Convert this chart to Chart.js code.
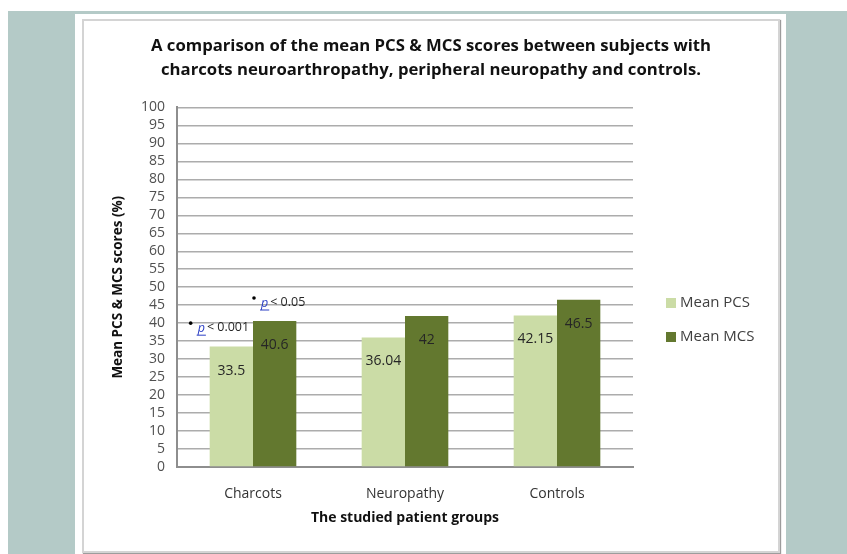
<!DOCTYPE html>
<html>
<head>
<meta charset="utf-8">
<script src="https://cdn.jsdelivr.net/npm/chart.js@4.4.1/dist/chart.umd.min.js"></script>
<style>
  html, body { margin: 0; padding: 0; background: #fff; }
  body { width: 847px; height: 554px; position: relative; overflow: hidden; }
  #bg { position: absolute; left: 8px; top: 11px; right: 0; bottom: 0; background: #b4cac7; }
  #panel { position: absolute; left: 75px; top: 14px; width: 711px; height: 540px; background: #fff; }
  #box {
    position: absolute; left: 82px; top: 19px; width: 694px; height: 530px;
    border: 2px solid #d4d4d4; box-shadow: 1px 1px 1px #9c9c9c; background: #fff;
  }
  #chart { display: block; }
</style>
</head>
<body>
<div id="bg"></div>
<div id="panel"></div>
<div id="box"><canvas id="chart" width="694" height="530"></canvas></div>
<script>
// mean quality-of-life component scores per patient group
const groups = ["Charcots", "Neuropathy", "Controls"];
const seriesNames = ["Mean PCS", "Mean MCS"];
const meanPCS = [33.5, 36.04, 42.15];
const meanMCS = [40.6, 42, 46.5];
const yMin = 0;
const yMax = 100;
const yStep = 5;

// significance markers: which bar they belong to, the level they sit at, and the text
const noteSeries = [0, 1];
const noteGroup = [0, 0];
const noteLevel = [40, 47];
const noteText = ["< 0.001", "< 0.05"];

const FONT = "'Open Sans', sans-serif";
const pcsColor = "#cbdca6";
const mcsColor = "#63782f";
const textDark = "#262626";
const tickGray = "#505050";

const valueLabels = {
  id: "valueLabels",
  afterDatasetsDraw(chart) {
    const { ctx } = chart;
    ctx.save();
    ctx.font = "14px " + FONT;
    ctx.fillStyle = textDark;
    ctx.textAlign = "center";
    ctx.textBaseline = "middle";
    chart.data.datasets.forEach((ds, d) => {
      chart.getDatasetMeta(d).data.forEach((bar, i) => {
        ctx.fillText(String(ds.data[i]), bar.x, bar.y + 24);
      });
    });
    ctx.restore();
  }
};

const pNotes = {
  id: "pNotes",
  afterDatasetsDraw(chart) {
    const { ctx } = chart;
    const y = chart.scales.y;
    ctx.save();
    ctx.textBaseline = "middle";
    noteText.forEach((txt, n) => {
      const bar = chart.getDatasetMeta(noteSeries[n]).data[noteGroup[n]];
      const left = bar.x - bar.width / 2;
      const x0 = noteSeries[n] === 0 ? left - 19 : left + 1;
      const py = y.getPixelForValue(noteLevel[n]);
      // bullet
      ctx.fillStyle = "#000";
      ctx.beginPath();
      ctx.arc(x0, py, 1.8, 0, Math.PI * 2);
      ctx.fill();
      // blue italic p with underline
      ctx.font = "italic 12.5px " + FONT;
      ctx.fillStyle = "#2b3fc4";
      ctx.fillText("p", x0 + 7, py + 5);
      const pw = ctx.measureText("p").width;
      ctx.strokeStyle = "#2b3fc4";
      ctx.lineWidth = 1;
      ctx.beginPath();
      ctx.moveTo(x0 + 6, py + 12);
      ctx.lineTo(x0 + 8 + pw, py + 12);
      ctx.stroke();
      ctx.font = "12.5px " + FONT;
      ctx.fillStyle = textDark;
      ctx.fillText(txt, x0 + 9 + pw, py + 4);
    });
    ctx.restore();
  }
};

const sideLegend = {
  id: "sideLegend",
  afterDraw(chart) {
    const { ctx } = chart;
    ctx.save();
    ctx.font = "15px " + FONT;
    ctx.textBaseline = "middle";
    chart.data.datasets.forEach((ds, d) => {
      const cy = 282 + d * 34;
      ctx.fillStyle = ds.backgroundColor;
      ctx.fillRect(582, cy - 5, 10, 10);
      ctx.fillStyle = "#404040";
      ctx.fillText(ds.label, 596, cy);
    });
    ctx.restore();
  }
};

new Chart(document.getElementById("chart"), {
  type: "bar",
  data: {
    labels: groups,
    datasets: [
      { label: seriesNames[0], data: meanPCS, backgroundColor: pcsColor, borderWidth: 0,
        categoryPercentage: 0.57, barPercentage: 1.0 },
      { label: seriesNames[1], data: meanMCS, backgroundColor: mcsColor, borderWidth: 0,
        categoryPercentage: 0.57, barPercentage: 1.0 }
    ]
  },
  plugins: [valueLabels, pNotes, sideLegend],
  options: {
    responsive: false,
    animation: false,
    devicePixelRatio: 1,
    layout: { padding: 0 },
    plugins: {
      legend: { display: false },
      tooltip: { enabled: false },
      title: {
        display: true,
        text: [
          "A comparison of the mean PCS & MCS scores between subjects with",
          "charcots neuroarthropathy, peripheral neuropathy and controls."
        ],
        color: "#111",
        font: { family: FONT, size: 16.7, weight: "bold", lineHeight: 1.45 },
        padding: { top: 13, bottom: 25 }
      }
    },
    scales: {
      x: {
        afterFit(s) { s.height = 84; },
        grid: { display: false, drawTicks: false },
        border: { color: "#8e8e8e", width: 2 },
        ticks: { color: "#333", padding: 19, font: { family: FONT, size: 14 } },
        title: {
          display: true,
          text: "The studied patient groups",
          color: "#111",
          font: { family: FONT, size: 14, weight: "bold" },
          padding: { top: 0, bottom: 25 }
        }
      },
      y: {
        min: yMin,
        max: yMax,
        afterFit(s) { s.width = 93; },
        grid: { color: "#acacac", lineWidth: 1.5, drawTicks: false },
        border: { color: "#8e8e8e", width: 2 },
        ticks: { stepSize: yStep, autoSkip: false, color: tickGray, padding: 12,
                 font: { family: FONT, size: 14 } },
        title: {
          display: true,
          text: "Mean PCS & MCS scores (%)",
          color: "#111",
          font: { family: FONT, size: 13.5, weight: "bold" },
          padding: { top: 26, bottom: 0 }
        }
      },
      // empty right-hand axis that reserves the strip where the legend sits
      legendSpace: {
        type: "linear",
        position: "right",
        afterFit(s) { s.width = 145; },
        grid: { display: false, drawTicks: false },
        border: { display: false },
        ticks: { display: false }
      }
    }
  }
});
</script>
</body>
</html>
